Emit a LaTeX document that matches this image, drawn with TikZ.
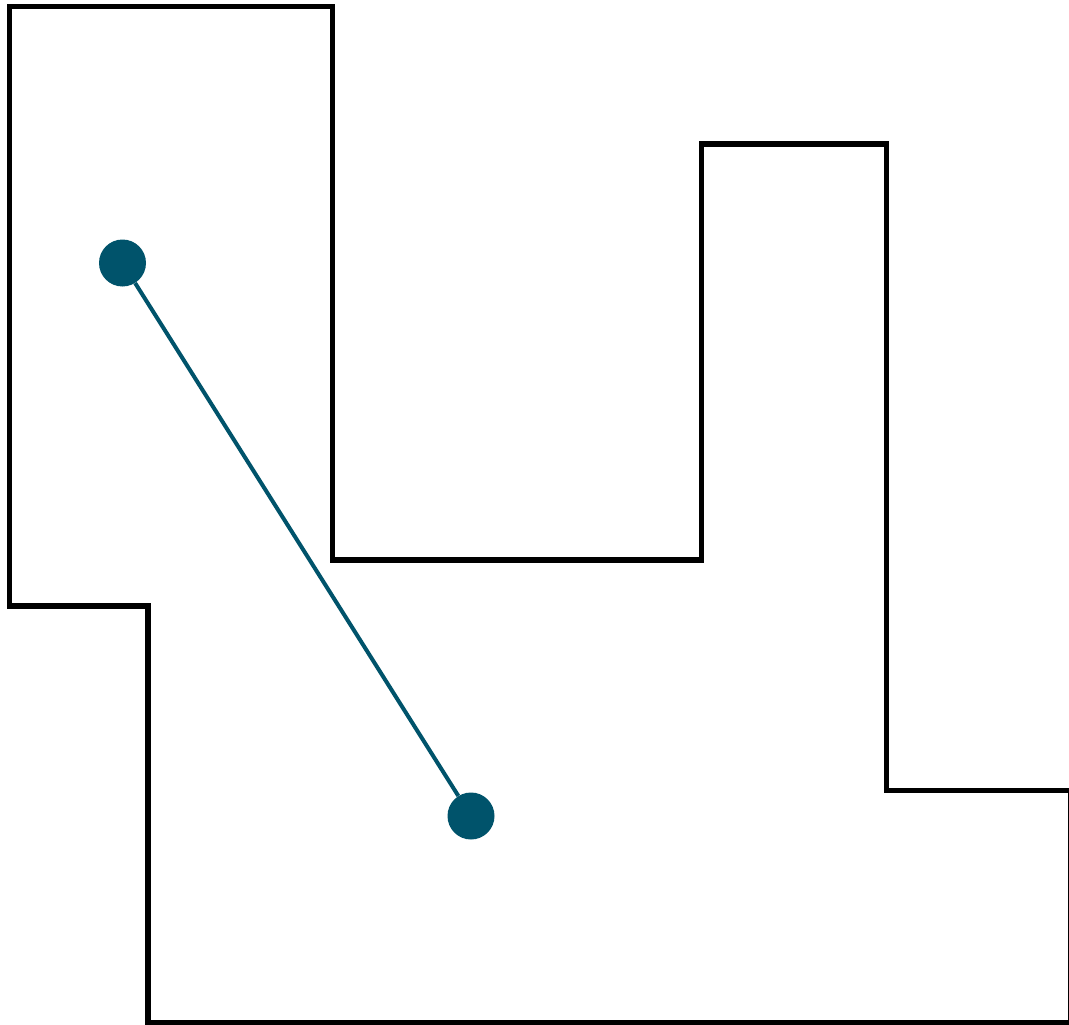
\documentclass[tikz,border=0pt]{standalone}
\definecolor{teal}{RGB}{0,83,107}
\begin{document}
\begin{tikzpicture}[x=1pt,y=-1pt,
  dot/.style={circle,fill=teal,draw=none,minimum size=47pt,inner sep=0pt},
  wall/.style={draw=black,line width=5.5pt,line join=miter},
  link/.style={draw=teal,line width=4pt}]
\useasboundingbox[fill=white] (0,0) rectangle (1069,1025);
\clip (0,0) rectangle (1069,1025);
\draw[wall] (9.5,6.5) -- (332.5,6.5) -- (332.5,560) -- (701.5,560) -- (701.5,144) -- (886.5,144) -- (886.5,790.5) -- (1071,790.5) -- (1071,1022.5) -- (148,1022.5) -- (148,606) -- (9.5,606) -- cycle;
\node[dot] (a) at (122.5,263) {};
\node[dot] (b) at (471,816) {};
\draw[link] (a) -- (b);
\end{tikzpicture}
\end{document}
